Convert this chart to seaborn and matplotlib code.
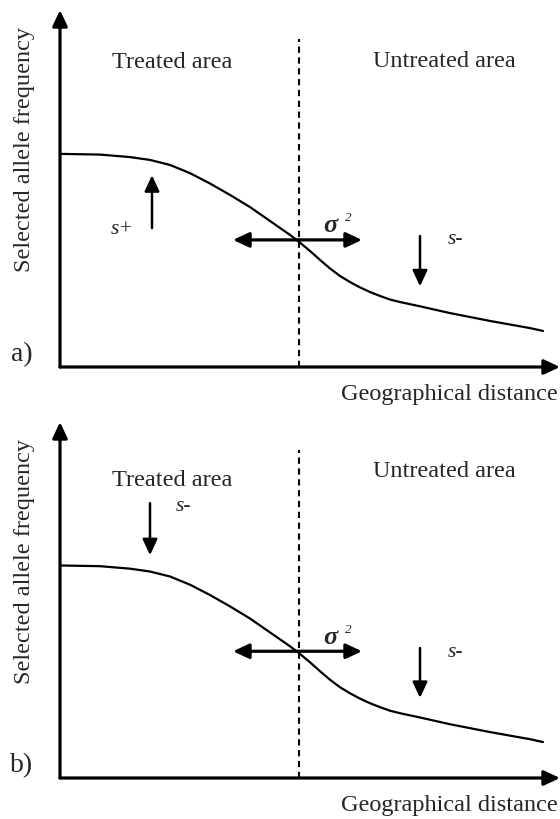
import matplotlib
matplotlib.use("Agg")
import matplotlib.pyplot as plt
import seaborn as sns
import pandas as pd

sns.set_style("white")
plt.rcParams["font.family"] = ["Liberation Serif", "DejaVu Serif"]

# Cline profile: geographical distance (0-100) vs selected allele frequency (0-1)
distance = [0, 8, 14, 18, 22, 26, 30, 34, 38, 42, 46, 47.6, 50, 52, 54, 56, 58,
            60, 62, 64, 66, 68, 72, 78, 86, 94, 96.6]
frequency = [0.597, 0.595, 0.588, 0.580, 0.566, 0.543, 0.514, 0.482, 0.448, 0.409,
             0.370, 0.353, 0.325, 0.300, 0.276, 0.255, 0.238, 0.223, 0.210, 0.199,
             0.189, 0.182, 0.170, 0.151, 0.129, 0.109, 0.101]
boundary = 47.8          # edge between treated and untreated zones
boundary_top = 0.92      # top of the dashed boundary line
panel_labels = ["a)", "b)"]
zone_labels = ["Treated area", "Untreated area"]
x_label = "Geographical distance"
y_label = "Selected allele frequency"

# Selection arrows per panel: (x, y_start, y_end, label, label_x, label_y)
selection_a = [(18.4, 0.389, 0.537, "s+", 12.4, 0.384),
               (72.0, 0.367, 0.226, "s-", 79.0, 0.356)]
selection_b = [(18.0, 0.772, 0.626, "s-", 24.6, 0.763),
               (72.0, 0.365, 0.225, "s-", 79.0, 0.352)]
dispersal = (34.6, 60.4, 0.356)   # x_left, x_right, y of the sigma^2 arrow
zone_label_y = [(0.854, 0.857), (0.837, 0.86)]

df = pd.DataFrame({"distance": distance, "frequency": frequency})

fig = plt.figure(figsize=(5.6, 8.19), dpi=100)
W, H = 560, 819

panels = [
    dict(top=10, bottom=367, sel=selection_a, zy=zone_label_y[0]),
    dict(top=422, bottom=778, sel=selection_b, zy=zone_label_y[1]),
]

head = "-|>,head_length=0.6,head_width=0.28"
arrow_kw = dict(arrowstyle=head, color="black", lw=1.8, mutation_scale=16,
                shrinkA=0, shrinkB=0)
wide_kw = dict(arrowstyle=head, color="black", lw=2.3, mutation_scale=16,
               shrinkA=0, shrinkB=0)
FS = 17.5

for i, p in enumerate(panels):
    ax = fig.add_axes([60 / W, (H - p["bottom"]) / H, 500 / W, (p["bottom"] - p["top"]) / H])
    ax.set_xlim(0, 100)
    ax.set_ylim(0, 1)
    ax.axis("off")

    sns.lineplot(data=df, x="distance", y="frequency", ax=ax, color="black",
                 lw=1.6, legend=False, solid_joinstyle="round", solid_capstyle="round")

    # axes drawn as arrows
    ax.annotate("", xy=(1, 0), xytext=(0, 0), xycoords="axes fraction",
                arrowprops=wide_kw)
    ax.annotate("", xy=(0, 1), xytext=(0, 0), xycoords="axes fraction",
                arrowprops=wide_kw)

    # treated / untreated boundary
    ax.plot([boundary, boundary], [0, boundary_top], color="black", lw=1.5,
            linestyle=(0, (3, 2.2)))

    # zone labels
    ax.text(22.4, p["zy"][0], zone_labels[0], ha="center", va="center", fontsize=FS)
    ax.text(76.8, p["zy"][1], zone_labels[1], ha="center", va="center", fontsize=FS)

    # selection arrows
    for x, y0, y1, lab, lx, ly in p["sel"]:
        ax.annotate("", xy=(x, y1), xytext=(x, y0), arrowprops=arrow_kw)
        ax.text(lx, ly, lab, ha="center", va="center", fontsize=15.5, style="italic")

    # dispersal arrow (both directions)
    xl, xr, yd = dispersal
    ax.annotate("", xy=(xl, yd), xytext=(boundary, yd), arrowprops=wide_kw)
    ax.annotate("", xy=(xr, yd), xytext=(boundary, yd), arrowprops=wide_kw)
    ax.text(54.0, yd + 0.040, "σ", ha="center", va="center", fontsize=19,
            fontweight="bold", style="italic")
    ax.text(57.6, yd + 0.060, "2", ha="center", va="center", fontsize=9.5,
            style="italic")

    # panel and axis labels
    fig.text(22 / W, 1 - (p["bottom"] - 12) / H, panel_labels[i], ha="center",
             va="center", fontsize=20)
    fig.text(558 / W, 1 - (p["bottom"] + 27) / H, x_label, ha="right", va="center",
             fontsize=FS)
    fig.text(25 / W, 1 - (p["top"] + 140) / H, y_label, ha="center", va="center",
             rotation=90, fontsize=FS)

fig.savefig("out.png", dpi=100)
